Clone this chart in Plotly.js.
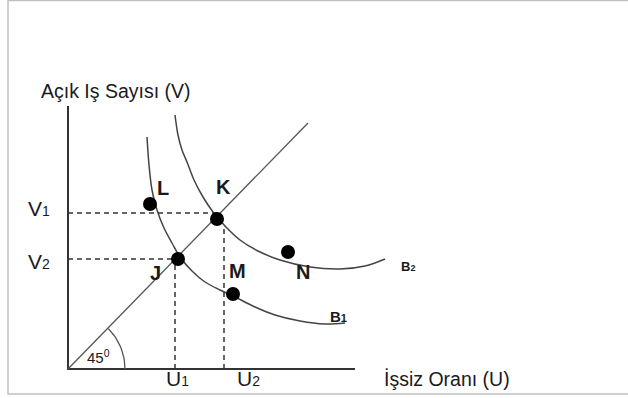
<!DOCTYPE html>
<html>
<head>
<meta charset="utf-8">
<script src="https://cdn.plot.ly/plotly-3.0.1.min.js"></script>
<style>
  body { margin: 0; background: #fff; }
  #chart { width: 628px; height: 398px; }
</style>
</head>
<body>
<div id="chart"></div>
<script>
// Beveridge curves B1 and B2 with the 45 degree line
var b1U = [7.9, 8.1, 8.4, 8.9, 9.6, 10.4, 11.2, 12.4, 13.7, 15.2, 16.7, 18.7, 20.7, 23.2, 25.7, 27.7];
var b1V = [23.2, 20.4, 17.9, 15.9, 14.1, 12.6, 11.2, 9.8, 8.7, 7.9, 7.2, 6.2, 5.4, 4.8, 4.5, 4.6];

var b2U = [10.7, 11.0, 11.4, 11.9, 12.6, 13.5, 14.5, 15.7, 17.2, 19.0, 21.2, 24.2, 27.2, 29.7, 31.7];
var b2V = [25.4, 23.4, 21.9, 20.7, 18.9, 17.2, 15.7, 14.3, 12.9, 11.8, 10.9, 10.2, 10.0, 10.3, 11.0];

var lineU = [0, 24.0];
var lineV = [0, 24.6];

var pointNames = ['J', 'K', 'L', 'M', 'N'];
var pointU = [11.0, 14.9, 8.2, 16.5, 22.0];
var pointV = [11.0, 15.0, 16.5, 7.5, 11.7];
var labelU = [8.7, 15.5, 9.5, 16.9, 23.5];
var labelV = [9.6, 18.2, 18.1, 9.8, 9.7];

var v1 = 15.6, v2 = 11.0, u1 = 10.7, u2 = 15.6;
var axisU = 28.7, axisV = 26.3;

var font = 'Liberation Sans, Arial, sans-serif';
var ink = '#1a1a1a';

// arc for the 45 degree mark
var arcR = 5.7, arcU = [], arcV = [];
for (var a = 0; a <= 45; a += 3) {
  arcU.push(arcR * Math.cos(a * Math.PI / 180));
  arcV.push(arcR * Math.sin(a * Math.PI / 180));
}

var traces = [
  { x: [0, 0, axisU], y: [axisV, 0, 0], mode: 'lines', line: { color: '#333', width: 2 } },
  { x: lineU, y: lineV, mode: 'lines', line: { color: '#555', width: 1.3 } },
  { x: arcU, y: arcV, mode: 'lines', line: { color: '#555', width: 1.3 } },
  { x: b1U, y: b1V, mode: 'lines', line: { color: '#444', width: 1.5, shape: 'spline' } },
  { x: b2U, y: b2V, mode: 'lines', line: { color: '#444', width: 1.5, shape: 'spline' } },
  { x: [0, pointU[1], null, 0, v2, null, u1, u1, null, u2, u2],
    y: [v1, v1, null, v2, v2, null, 0, v2, null, 0, 14.0],
    mode: 'lines', line: { color: '#333', width: 1.5, dash: '5px,4px' } },
  { x: pointU, y: pointV, mode: 'markers', marker: { color: '#000', size: 14 } }
];

function label(x, y, text, size, bold) {
  return {
    x: x, y: y, text: bold ? '<b>' + text + '</b>' : text, showarrow: false,
    font: { family: font, size: size, color: ink }, xanchor: 'center', yanchor: 'middle'
  };
}

var annotations = [
  label(4.8, 27.8, 'Açık Iş Sayısı (V)', 19.5, false),
  label(37.9, -1.0, 'İşsiz Oranı (U)', 19.5, false),
  label(-2.9, 16.1, "V<span style='font-size:14px'>1</span>", 21, false),
  label(-2.9, 10.8, "V<span style='font-size:14px'>2</span>", 21, false),
  label(10.9, -0.9, "U<span style='font-size:14px'>1</span>", 21, false),
  label(18.0, -0.9, "U<span style='font-size:14px'>2</span>", 21, false),
  label(34.0, 10.3, "B<span style='font-size:9px'>2</span>", 13, true),
  label(27.0, 5.3, "B<span style='font-size:11px'>1</span>", 15, true),
  label(3.0, 1.3, '45<sup>0</sup>', 15, false)
];
for (var i = 0; i < pointNames.length; i++) {
  annotations.push(label(labelU[i], labelV[i], pointNames[i], 20, true));
}

var layout = {
  width: 628, height: 398,
  margin: { l: 0, r: 0, t: 0, b: 0 },
  paper_bgcolor: '#fff', plot_bgcolor: '#fff',
  showlegend: false,
  xaxis: { range: [-6.8, 56.0], visible: false, fixedrange: true },
  yaxis: { range: [-2.9, 36.9], visible: false, fixedrange: true },
  annotations: annotations,
  shapes: [
    { type: 'rect', xref: 'paper', yref: 'paper', x0: 8 / 628, x1: 1.01, y0: 4 / 398, y1: 0.999,
      line: { color: '#c0c0c0', width: 1.5 } }
  ]
};

Plotly.newPlot('chart', traces, layout, { displayModeBar: false, staticPlot: true });
</script>
</body>
</html>
